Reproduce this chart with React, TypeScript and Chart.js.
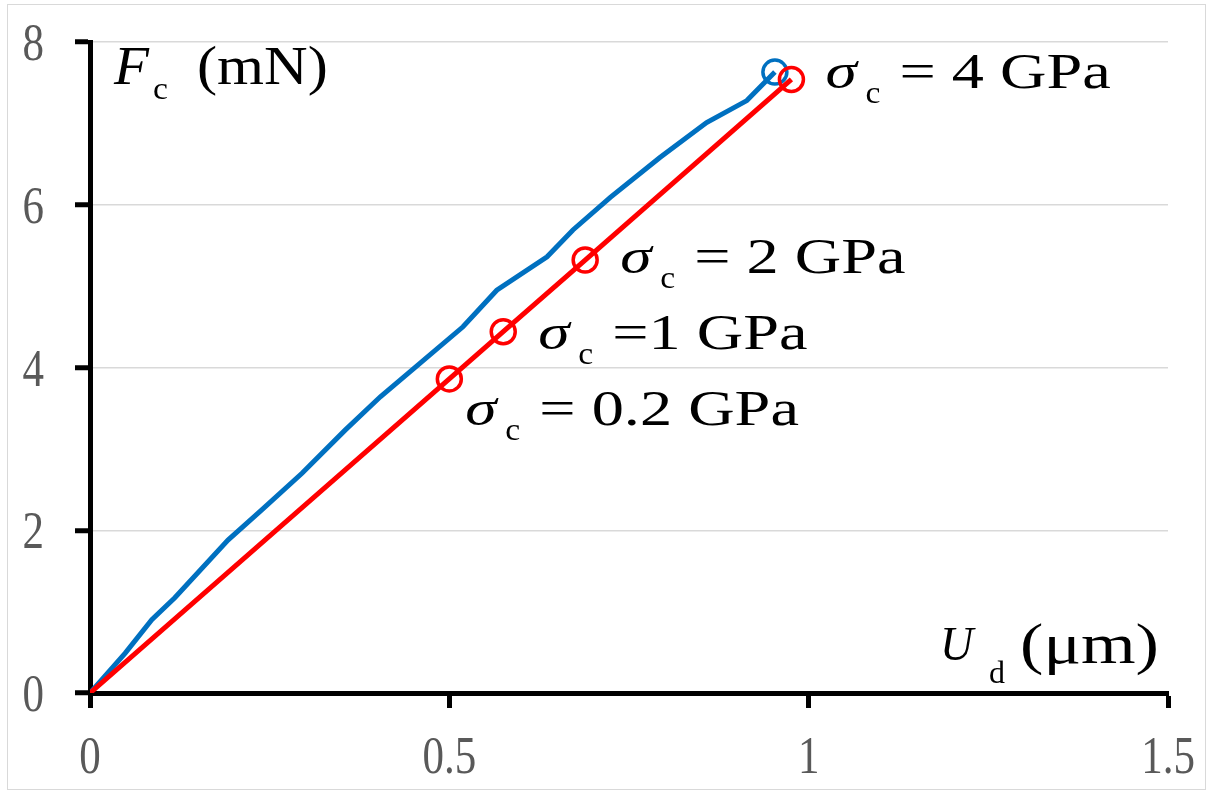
import React, { useEffect, useRef } from "react";
import { Chart, registerables } from "chart.js";

Chart.register(...registerables);

// ---- data ----
const blueX = [0, 0.049, 0.086, 0.118, 0.192, 0.239, 0.295, 0.355, 0.404, 0.459, 0.519, 0.566, 0.636, 0.672, 0.724, 0.793, 0.858, 0.914, 0.953];
const blueY = [0, 0.49, 0.9, 1.17, 1.88, 2.25, 2.7, 3.23, 3.64, 4.05, 4.5, 4.95, 5.36, 5.69, 6.09, 6.58, 7.01, 7.28, 7.63];

const redX = [0, 0.5, 0.575, 0.689, 0.976];
const redY = [0, 3.86, 4.44, 5.32, 7.54];

const xTicks = [0, 0.5, 1, 1.5];
const yTicks = [0, 2, 4, 6, 8];

// stress labels attached to the red markers (index into red arrays)
const stressMarkerIndex = [1, 2, 3, 4];
const stressValueText = ["= 0.2 GPa", "=1 GPa", "= 2 GPa", "= 4 GPa"];

const SERIF = '"Liberation Serif", "Times New Roman", serif';

function drawPiece(
  ctx: CanvasRenderingContext2D,
  text: string,
  x: number,
  y: number,
  size: number,
  italic: boolean,
  sx: number,
  sy: number = 1,
  align: CanvasTextAlign = "left",
  color: string = "#000000"
) {
  ctx.save();
  ctx.font = `${italic ? "italic " : ""}${size}px ${SERIF}`;
  ctx.translate(x, y);
  ctx.scale(sx, sy);
  ctx.fillStyle = color;
  ctx.textAlign = align;
  ctx.textBaseline = "alphabetic";
  ctx.fillText(text, 0, 0);
  ctx.restore();
}

// per-label offset from marker centre (px) for the sigma glyph
const labelOffsets = [
  [16, 46],
  [35, 17],
  [35, 13],
  [34, 9],
];

const backgroundPlugin = {
  id: "bgFrame",
  beforeDraw(chart: any) {
    const ctx = chart.ctx as CanvasRenderingContext2D;
    ctx.save();
    ctx.fillStyle = "#ffffff";
    ctx.fillRect(0, 0, chart.width, chart.height);
    ctx.strokeStyle = "#d9d9d9";
    ctx.lineWidth = 1;
    ctx.strokeRect(7.5, 4.5, chart.width - 15, chart.height - 9);
    ctx.restore();
  },
};

const TICK_FONT = 43;
const TICK_SY = 1.25;
const TICK_COLOR = "#595959";

const tickLabelPlugin = {
  id: "tickLabels",
  afterDraw(chart: any) {
    const ctx = chart.ctx as CanvasRenderingContext2D;
    const xs = chart.scales.x;
    const ys = chart.scales.y;
    xs.ticks.forEach((t: any) => {
      const px = xs.getPixelForValue(t.value);
      drawPiece(ctx, String(t.value), px, 773, TICK_FONT, false, 1, TICK_SY, "center", TICK_COLOR);
    });
    ys.ticks.forEach((t: any) => {
      const py = ys.getPixelForValue(t.value);
      drawPiece(ctx, String(t.value), 44, py + 18, TICK_FONT, false, 1, TICK_SY, "right", TICK_COLOR);
    });
  },
};

const annotationPlugin = {
  id: "annotations",
  afterDatasetsDraw(chart: any) {
    const ctx = chart.ctx as CanvasRenderingContext2D;
    const xs = chart.scales.x;
    const ys = chart.scales.y;

    // y-axis title: F_c (mN)
    drawPiece(ctx, "F", 114, 84, 53, true, 1.08, 1.05);
    drawPiece(ctx, "c", 153, 99, 32, false, 1.05);
    drawPiece(ctx, "(mN)", 197, 84, 53, false, 1.14, 1.05);

    // x-axis title: U_d (μm)
    drawPiece(ctx, "U", 940, 660, 46, true, 1.0, 1.05);
    drawPiece(ctx, "d", 989, 683, 32, false, 1.0);
    drawPiece(ctx, "(μm)", 1020, 663, 54, false, 1.3, 1.05);

    // stress labels
    stressMarkerIndex.forEach((mi, k) => {
      const px = xs.getPixelForValue(redX[mi]);
      const py = ys.getPixelForValue(redY[mi]);
      const sx0 = px + labelOffsets[k][0];
      const base = py + labelOffsets[k][1];
      drawPiece(ctx, "σ", sx0, base, 48, true, 1.32, 1.05);
      drawPiece(ctx, "c", sx0 + 40, base + 15, 32, false, 1.05);
      drawPiece(ctx, stressValueText[k], sx0 + 74, base, 48, false, 1.34, 1.05);
    });
  },
};

export default function App() {
  const ref = useRef<HTMLCanvasElement | null>(null);

  useEffect(() => {
    const canvas = ref.current;
    if (!canvas) return;
    document.body.style.margin = "0";

    const chart = new Chart(canvas, {
      type: "line",
      data: {
        datasets: [
          {
            label: "red",
            data: redX.map((x, i) => ({ x, y: redY[i] })),
            borderColor: "#FF0000",
            borderWidth: 5,
            pointRadius: redX.map((_, i) => (i === 0 ? 0 : 12)),
            pointBorderColor: "#FF0000",
            pointBorderWidth: 3.5,
            pointBackgroundColor: "rgba(0,0,0,0)",
            tension: 0,
            fill: false,
          },
          {
            label: "blue",
            data: blueX.map((x, i) => ({ x, y: blueY[i] })),
            borderColor: "#0070C0",
            borderWidth: 5,
            pointRadius: blueX.map((_, i) => (i === blueX.length - 1 ? 12 : 0)),
            pointBorderColor: "#0070C0",
            pointBorderWidth: 3.5,
            pointBackgroundColor: "rgba(0,0,0,0)",
            tension: 0,
            fill: false,
          },
        ],
      },
      options: {
        responsive: false,
        animation: false,
        layout: { padding: { left: 0, top: 42, right: 45, bottom: 0 } },
        plugins: {
          legend: { display: false },
          tooltip: { enabled: false },
        },
        scales: {
          x: {
            type: "linear",
            min: 0,
            max: 1.5,
            afterBuildTicks: (s: any) => {
              s.ticks = xTicks.map((v) => ({ value: v }));
            },
            afterFit: (s: any) => {
              s.height = 101;
              s.paddingLeft = 0;
              s.paddingRight = 0;
            },
            ticks: { display: false },
            grid: {
              drawOnChartArea: false,
              tickLength: 15,
              tickWidth: 5,
              tickColor: "#000000",
            },
            border: { display: true, color: "#000000", width: 5 },
          },
          y: {
            type: "linear",
            min: 0,
            max: 8,
            afterBuildTicks: (s: any) => {
              s.ticks = yTicks.map((v) => ({ value: v }));
            },
            afterFit: (s: any) => {
              s.width = 90;
              s.paddingTop = 0;
              s.paddingBottom = 0;
            },
            ticks: { display: false },
            grid: {
              color: "#d9d9d9",
              lineWidth: 1.5,
              tickLength: 15,
              tickWidth: 5,
              tickColor: "#000000",
            },
            border: { display: true, color: "#000000", width: 5 },
          },
        },
      },
      plugins: [backgroundPlugin, annotationPlugin, tickLabelPlugin],
    } as any);

    return () => chart.destroy();
  }, []);

  return (
    <div style={{ position: "absolute", left: 0, top: 0, width: 1213, height: 794 }}>
      <canvas ref={ref} width={1213} height={794} style={{ display: "block", width: 1213, height: 794 }} />
    </div>
  );
}
